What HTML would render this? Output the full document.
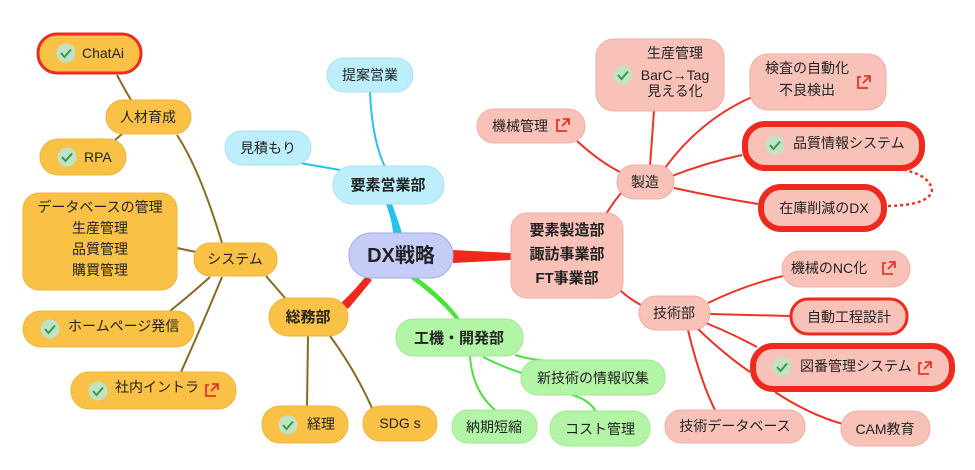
<!DOCTYPE html>
<html><head><meta charset="utf-8"><style>
html,body{margin:0;padding:0;background:#fff;}
svg{display:block;font-family:"Liberation Sans","Noto Sans CJK JP",sans-serif;}
text{fill:#222;font-size:14px;}
.b{font-weight:bold;font-size:15px;}
</style></head><body>
<svg width="975" height="470" viewBox="0 0 975 470" xmlns="http://www.w3.org/2000/svg">
<defs>
<g id="chk"><circle r="9.5" fill="#bfe3c4"/><path d="M-5,0 L-1.5,4 L5,-3.5" stroke="#3a9a4a" stroke-width="2" fill="none"/></g>
<g id="ext"><path d="M-6,-2 V6 H4 M0,-6 H6 V0 M6,-6 L-1,1" stroke="#e8342a" stroke-width="1.8" fill="none"/><path d="M-6,-2 V-5 H-3" stroke="#e8342a" stroke-width="1.8" fill="none"/></g>
</defs>
<!-- edges brown -->
<g stroke="#8a6a1f" stroke-width="2" fill="none">
<path d="M117,75 Q125,90 131,100"/>
<path d="M115,140 L122,134"/>
<path d="M177,135 Q200,170 222,243"/>
<path d="M177,248 L196,252"/>
<path d="M210,277 Q190,295 170,311"/>
<path d="M222,277 Q200,330 181,372"/>
<path d="M266,276 L285,298"/>
<path d="M308,336 L307,406"/>
<path d="M330,336 Q355,370 372,408"/>
</g>
<!-- blue -->
<g stroke="#27c1ee" fill="none">
<path d="M370,92 Q372,140 385,167" stroke-width="2"/>
<path d="M300,163 L340,170" stroke-width="2"/>
</g>
<path d="M386,204 Q392,220 393,233 L402,233 Q398,220 392,204 Z" fill="#27c1ee"/>
<!-- red main -->
<path d="M453,250 L511,253 L511,260 L453,263 Z" fill="#f0281c"/>
<path d="M366,276 Q355,290 341,303 L348,309 Q360,295 372,280 Z" fill="#f0281c"/>
<!-- green -->
<path d="M410,278 Q440,300 455,319 L460,319 Q445,298 418,278 Z" fill="#49e33a"/>
<g stroke="#49e33a" stroke-width="2" fill="none">
<path d="M470,356 Q472,390 495,410"/>
<path d="M515,355 Q530,360 560,362"/>
<path d="M483,357 Q505,368 522,373"/>
<path d="M572,395 Q590,400 596,412"/>
</g>
<!-- red edges -->
<g stroke="#ee3226" stroke-width="2" fill="none">
<path d="M606,214 Q615,200 622,192"/>
<path d="M577,141 Q600,162 620,172"/>
<path d="M654,111 L650,166"/>
<path d="M752,97 Q700,120 665,168"/>
<path d="M742,155 Q705,163 672,176"/>
<path d="M674,188 Q715,197 758,204"/>
<path d="M620,290 Q628,298 641,305"/>
<path d="M708,303 Q745,285 783,276"/>
<path d="M710,314 L790,316"/>
<path d="M706,323 Q735,335 757,347"/>
<path d="M697,328 Q725,355 750,372"/>
<path d="M688,330 Q700,380 715,410"/>
<path d="M775,392 Q810,415 843,424"/>
</g>
<path d="M888,206 Q930,205 932,190 Q930,176 905,170" stroke="#ee3226" stroke-width="2.5" stroke-dasharray="3,3" fill="none"/>
<!-- orange nodes -->
<g fill="#f9c146" stroke="#f0b53a" stroke-width="1">
<rect x="106" y="100" width="85" height="34" rx="17"/>
<rect x="40" y="139" width="86" height="36" rx="18"/>
<rect x="23" y="193" width="154" height="97" rx="16"/>
<rect x="194" y="243" width="83" height="33" rx="16"/>
<rect x="23" y="311" width="171" height="36" rx="18"/>
<rect x="71" y="372" width="165" height="37" rx="18"/>
<rect x="269" y="298" width="79" height="38" rx="19"/>
<rect x="262" y="406" width="86" height="37" rx="18"/>
<rect x="363" y="406" width="74" height="35" rx="17"/>
</g>
<rect x="38" y="34" width="103" height="39" rx="19" fill="#f9c146" stroke="#ec2b22" stroke-width="3"/>
<!-- blue nodes -->
<g fill="#bdeefc" stroke="#a6e2f5">
<rect x="327" y="58" width="86" height="34" rx="17"/>
<rect x="225" y="131" width="86" height="34" rx="17"/>
<rect x="333" y="166" width="111" height="38" rx="19"/>
</g>
<rect x="349" y="233" width="104" height="45" rx="22" fill="#c5ccf7" stroke="#a3abe8"/>
<!-- green nodes -->
<g fill="#b3f5a6" stroke="#9ee98f">
<rect x="396" y="319" width="127" height="37" rx="18"/>
<rect x="521" y="360" width="144" height="35" rx="17"/>
<rect x="452" y="410" width="85" height="33" rx="16"/>
<rect x="550" y="411" width="100" height="35" rx="17"/>
</g>
<!-- salmon nodes -->
<g fill="#f9c2b9" stroke="#f0aea4">
<rect x="511" y="213" width="112" height="85" rx="16"/>
<rect x="617" y="165" width="57" height="34" rx="17"/>
<rect x="477" y="109" width="108" height="34" rx="17"/>
<rect x="596" y="39" width="128" height="72" rx="18"/>
<rect x="750" y="54" width="136" height="56" rx="18"/>
<rect x="782" y="251" width="128" height="36" rx="18"/>
<rect x="639" y="296" width="71" height="34" rx="17"/>
<rect x="665" y="410" width="140" height="33" rx="16"/>
<rect x="841" y="411" width="89" height="35" rx="17"/>
</g>
<g fill="#f9c2b9" stroke="#ee2a1e">
<rect x="745" y="124" width="177" height="44" rx="20" stroke-width="6"/>
<rect x="761" y="187" width="123" height="42" rx="20" stroke-width="6"/>
<rect x="791" y="299" width="116" height="35" rx="17" stroke-width="3"/>
<rect x="753" y="346" width="199" height="43" rx="20" stroke-width="6"/>
</g>
<!-- icons -->
<use href="#chk" x="66" y="53"/>
<use href="#chk" x="67" y="157"/>
<use href="#chk" x="50" y="329"/>
<use href="#chk" x="98" y="391"/>
<use href="#chk" x="288" y="425"/>
<use href="#chk" x="623" y="75"/>
<use href="#chk" x="775" y="145"/>
<use href="#chk" x="782" y="367"/>
<use href="#ext" x="212" y="390"/>
<use href="#ext" x="563" y="125"/>
<use href="#ext" x="864" y="82"/>
<use href="#ext" x="889" y="268"/>
<use href="#ext" x="925" y="368"/>
<!-- text -->
<text x="82" y="58">ChatAi</text>
<text x="148" y="122" text-anchor="middle">人材育成</text>
<text x="84" y="162">RPA</text>
<g text-anchor="middle"><text x="100" y="212">データベースの管理</text><text x="100" y="233">生産管理</text><text x="100" y="254">品質管理</text><text x="100" y="275">購買管理</text></g>
<text x="235" y="264" text-anchor="middle">システム</text>
<text x="68" y="331">ホームページ発信</text>
<text x="115" y="392">社内イントラ</text>
<text x="308" y="322" text-anchor="middle" class="b">総務部</text>
<text x="307" y="429">経理</text>
<text x="400" y="428" text-anchor="middle">SDG s</text>
<text x="370" y="80" text-anchor="middle">提案営業</text>
<text x="268" y="153" text-anchor="middle">見積もり</text>
<text x="388" y="190" text-anchor="middle" class="b">要素営業部</text>
<text x="401" y="262" text-anchor="middle" style="font-size:20px;font-weight:bold">DX戦略</text>
<text x="459" y="343" text-anchor="middle" class="b">工機・開発部</text>
<text x="593" y="383" text-anchor="middle">新技術の情報収集</text>
<text x="494" y="432" text-anchor="middle">納期短縮</text>
<text x="600" y="434" text-anchor="middle">コスト管理</text>
<g text-anchor="middle" class="b"><text x="567" y="235" class="b">要素製造部</text><text x="567" y="259" class="b">諏訪事業部</text><text x="567" y="283" class="b">FT事業部</text></g>
<text x="645" y="187" text-anchor="middle">製造</text>
<text x="520" y="131" text-anchor="middle">機械管理</text>
<text x="675" y="58" text-anchor="middle">生産管理</text>
<text x="675" y="80" text-anchor="middle">BarC→Tag</text>
<text x="675" y="96" text-anchor="middle">見える化</text>
<text x="807" y="73" text-anchor="middle">検査の自動化</text>
<text x="807" y="95" text-anchor="middle">不良検出</text>
<text x="793" y="148">品質情報システム</text>
<text x="824" y="213" text-anchor="middle">在庫削減のDX</text>
<text x="829" y="273" text-anchor="middle">機械のNC化</text>
<text x="849" y="322" text-anchor="middle">自動工程設計</text>
<text x="674" y="318" text-anchor="middle">技術部</text>
<text x="800" y="371">図番管理システム</text>
<text x="735" y="431" text-anchor="middle">技術データベース</text>
<text x="885" y="434" text-anchor="middle">CAM教育</text>
</svg>
</body></html>
